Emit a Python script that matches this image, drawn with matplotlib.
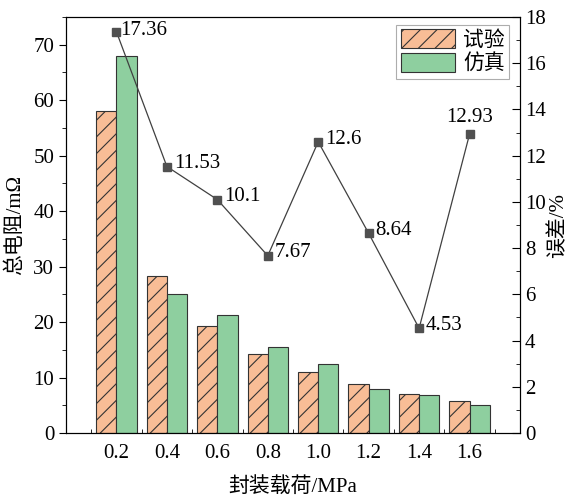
import numpy as np
import matplotlib.pyplot as plt
from matplotlib.ticker import MultipleLocator, FixedLocator

plt.rcParams['font.family'] = ['Liberation Serif', 'Noto Sans CJK SC']
plt.rcParams['hatch.linewidth'] = 0.8

loads = ['0.2', '0.4', '0.6', '0.8', '1.0', '1.2', '1.4', '1.6']
test_res = [58.0, 28.3, 19.3, 14.3, 11.0, 8.8, 7.1, 5.8]
sim_res = [68.0, 25.0, 21.2, 15.5, 12.5, 8.0, 6.8, 5.0]
error = [17.36, 11.53, 10.1, 7.67, 12.6, 8.64, 4.53, 12.93]
error_labels = ['17.36', '11.53', '10.1', '7.67', '12.6', '8.64', '4.53', '12.93']

x = np.arange(len(loads))
w = 0.4

fig = plt.figure(figsize=(5.71, 4.96), dpi=100)
ax = fig.add_axes([66 / 571, 63 / 496, 454 / 571, 416 / 496])

ax.bar(x - w / 2, test_res, w, color='#F8BD96', edgecolor='#333333', linewidth=0.8,
       hatch='//', label='试验')
ax.bar(x + w / 2, sim_res, w, color='#8ECF9F', edgecolor='#333333', linewidth=0.8,
       label='仿真')

ax.set_xlim(-1, 8)
ax.set_ylim(0, 75)
ax.set_xticks(x)
ax.set_xticklabels(loads)
ax.xaxis.set_minor_locator(FixedLocator(np.arange(-0.5, 8, 1)))
ax.tick_params(axis='x', which='major', length=0, labelsize=15, pad=8)
ax.tick_params(axis='x', which='minor', direction='in', length=3)
ax.yaxis.set_major_locator(MultipleLocator(10))
ax.yaxis.set_minor_locator(MultipleLocator(5))
ax.tick_params(axis='y', which='major', direction='out', length=5, labelsize=15)
ax.tick_params(axis='y', which='minor', direction='out', length=3)
ax.set_xlabel('封装载荷/MPa', fontsize=15, labelpad=10)
ax.set_ylabel('总电阻/mΩ', fontsize=15, labelpad=6)

ax2 = ax.twinx()
ax2.plot(x, error, color='#404040', linewidth=0.9, marker='s', markersize=5.5,
         markerfacecolor='#505050', markeredgecolor='#505050')
ax2.set_ylim(0, 18)
ax2.yaxis.set_major_locator(MultipleLocator(2))
ax2.yaxis.set_minor_locator(MultipleLocator(1))
ax2.tick_params(axis='y', which='major', direction='in', length=6, labelsize=15)
ax2.tick_params(axis='y', which='minor', direction='in', length=3)
ax2.set_ylabel('误差/%', fontsize=15, labelpad=2)

for i, (v, s) in enumerate(zip(error, error_labels)):
    if i == len(error) - 1:
        ax2.annotate(s, (x[i], v), xytext=(0, 5), textcoords='offset points',
                     ha='center', va='bottom', fontsize=15)
    elif i == 0:
        ax2.annotate(s, (x[i], v), xytext=(3, 1), textcoords='offset points',
                     ha='left', va='center', fontsize=15)
    else:
        ax2.annotate(s, (x[i], v), xytext=(5, 2), textcoords='offset points',
                     ha='left', va='center', fontsize=15)

leg = ax.legend(loc='upper right', bbox_to_anchor=(0.985, 0.99), fontsize=15,
                frameon=True, fancybox=False, edgecolor='#999999',
                handlelength=2.6, handleheight=1.0, borderpad=0.2,
                labelspacing=0.1, handletextpad=0.4, borderaxespad=0.2)
leg.get_frame().set_linewidth(0.8)

plt.savefig('out.png', dpi=100)
